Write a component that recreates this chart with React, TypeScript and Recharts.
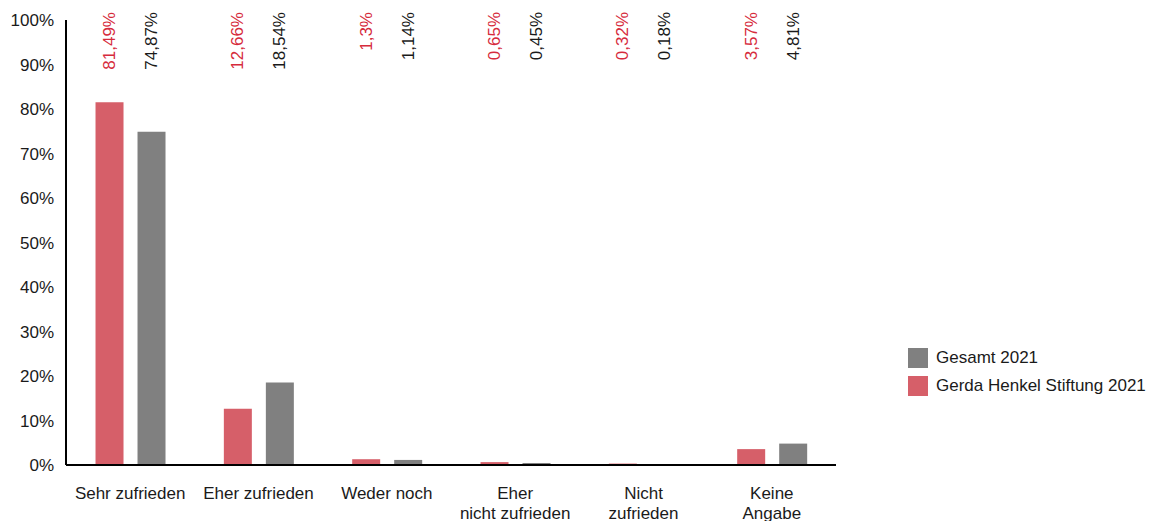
import { Bar, BarChart, LabelList, XAxis, YAxis } from "recharts";

const categories = [
  "Sehr zufrieden",
  "Eher zufrieden",
  "Weder noch",
  "Eher\nnicht zufrieden",
  "Nicht\nzufrieden",
  "Keine\nAngabe",
];
const gerdaHenkel = [81.49, 12.66, 1.3, 0.65, 0.32, 3.57];
const gesamt = [74.87, 18.54, 1.14, 0.45, 0.18, 4.81];
const yTicks = [0, 10, 20, 30, 40, 50, 60, 70, 80, 90, 100];

const RED = "#d65f69";
const RED_TEXT = "#d62b3c";
const GREY = "#808080";
const FONT = "'Liberation Sans', Arial, sans-serif";

const data = categories.map((name, i) => ({
  name,
  gerda: gerdaHenkel[i],
  gesamt: gesamt[i],
}));

function fmt(v: number) {
  return String(v).replace(".", ",") + "%";
}

function makeTopLabel(color: string) {
  return (props: any) => {
    const { x, width, value } = props;
    const cx = Number(x) + Number(width) / 2;
    return (
      <text
        x={cx}
        y={12}
        transform={`rotate(-90, ${cx}, 12)`}
        textAnchor="end"
        dominantBaseline="central"
        fill={color}
        fontSize={17}
        fontFamily={FONT}
      >
        {fmt(value)}
      </text>
    );
  };
}

function CategoryTick(props: any) {
  const { x, y, payload } = props;
  const lines = String(payload.value).split("\n");
  return (
    <g>
      {lines.map((line, i) => (
        <text
          key={i}
          x={x}
          y={y + 20 + i * 20}
          textAnchor="middle"
          dominantBaseline="central"
          fill="#1a1a1a"
          fontSize={17}
          fontFamily={FONT}
        >
          {line}
        </text>
      ))}
    </g>
  );
}

function LegendBox() {
  const items = [
    { label: "Gesamt 2021", color: GREY },
    { label: "Gerda Henkel Stiftung 2021", color: RED },
  ];
  return (
    <div style={{ position: "absolute", left: 908, top: 344, fontFamily: FONT }}>
      {items.map((it) => (
        <div key={it.label} style={{ display: "flex", alignItems: "center", height: 28 }}>
          <div style={{ width: 20, height: 20, background: it.color, marginRight: 8 }} />
          <span style={{ fontSize: 17, color: "#1a1a1a" }}>{it.label}</span>
        </div>
      ))}
    </div>
  );
}

export default function App() {
  return (
    <div style={{ position: "fixed", left: 0, top: 0, width: 1152, height: 521, background: "#fff" }}>
      <BarChart
        width={1152}
        height={521}
        data={data}
        margin={{ top: 20, right: 316, left: 0, bottom: 0 }}
        barCategoryGap="23%"
        barGap={14}
      >
        <XAxis
          dataKey="name"
          height={56}
          tickLine={false}
          axisLine={{ stroke: "#000", strokeWidth: 2 }}
          tick={<CategoryTick />}
          interval={0}
        />
        <YAxis
          width={66}
          domain={[0, 100]}
          ticks={yTicks}
          tickLine={false}
          tickMargin={6}
          axisLine={{ stroke: "#000", strokeWidth: 2 }}
          tickFormatter={(v) => `${v}%`}
          tick={{ fill: "#1a1a1a", fontSize: 17, fontFamily: FONT }}
        />
        <Bar dataKey="gerda" fill={RED} isAnimationActive={false}>
          <LabelList dataKey="gerda" content={makeTopLabel(RED_TEXT)} />
        </Bar>
        <Bar dataKey="gesamt" fill={GREY} isAnimationActive={false}>
          <LabelList dataKey="gesamt" content={makeTopLabel("#1a1a1a")} />
        </Bar>
      </BarChart>
      <LegendBox />
    </div>
  );
}
